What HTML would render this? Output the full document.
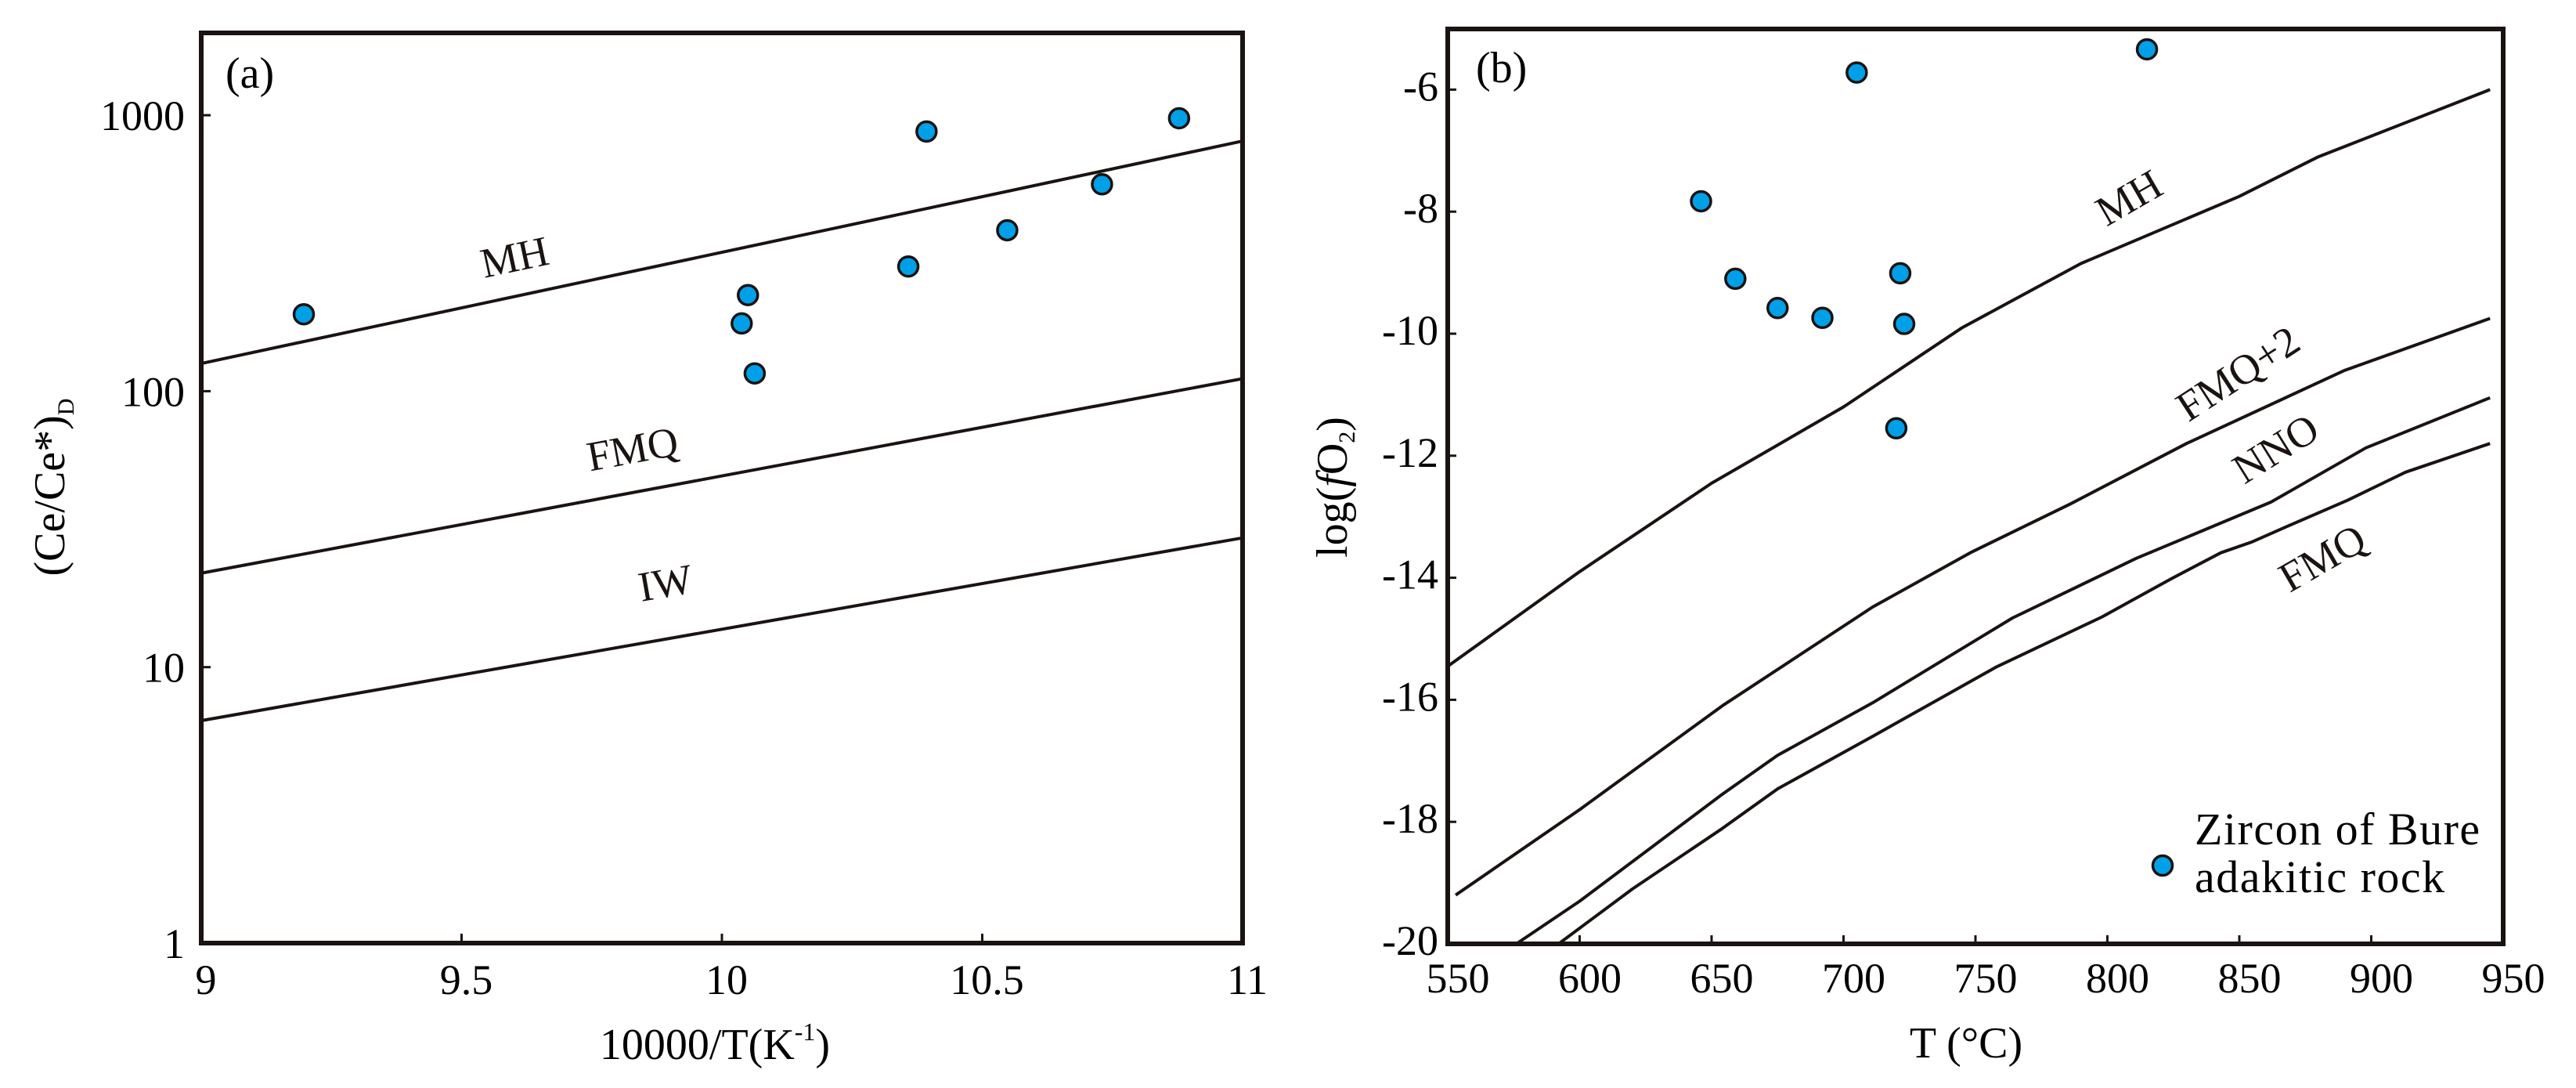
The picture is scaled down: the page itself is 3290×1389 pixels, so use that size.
<!DOCTYPE html>
<html><head><meta charset="utf-8"><style>
html,body{margin:0;padding:0;background:#fff;}
svg{display:block;font-family:"Liberation Serif",serif;}
</style></head><body>
<svg id="chart" width="3290" height="1389" viewBox="0 0 3290 1389" xmlns="http://www.w3.org/2000/svg">
<rect width="3290" height="1389" fill="#fff"/>
</svg>
<script>
// Panel a data
const aXTicks = [9, 9.5, 10, 10.5, 11];
const aYTicks = [1, 10, 100, 1000];
const aYTickLabels = ["1", "10", "100", "1000"];
const aPointsX = [9.197, 10.05, 10.038, 10.063, 10.358, 10.393, 10.548, 10.73, 10.878];
const aPointsY = [190, 223, 176, 116, 283, 873, 383, 562, 975];
const aLineNames = ["MH", "FMQ", "IW"];
const aLineX = [9, 11];
const aLineMH = [126, 806];
const aLineFMQ = [21.9, 111];
const aLineIW = [6.4, 29.4];
// Panel b data
const bXTicks = [550, 600, 650, 700, 750, 800, 850, 900, 950];
const bYTicks = [-20, -18, -16, -14, -12, -10, -8, -6];
const bPointsX = [646, 705, 815, 659, 675, 692, 721.5, 723, 720];
const bPointsY = [-7.83, -5.72, -5.34, -9.10, -9.58, -9.74, -9.01, -9.84, -11.55];
const bMHX = [550, 600, 650, 700, 745, 790, 850, 880, 945];
const bMHY = [-15.45, -13.9, -12.45, -11.2, -9.9, -8.85, -7.75, -7.1, -6.0];
const bFMQ2X = [553, 600, 654, 711, 748, 786, 830, 890, 945];
const bFMQ2Y = [-19.2, -17.8, -16.1, -14.48, -13.59, -12.79, -11.8, -10.6, -9.75];
const bNNOX = [576, 600, 654, 675, 711, 764, 811, 862, 898, 945];
const bNNOY = [-20, -19.3, -17.55, -16.91, -16.05, -14.66, -13.68, -12.76, -11.87, -11.05];
const bFMQX = [592, 620, 654, 675, 711, 758, 798, 824, 843, 855, 868, 891, 913, 945];
const bFMQY = [-20, -19.1, -18.11, -17.46, -16.6, -15.46, -14.64, -14.02, -13.59, -13.41, -13.16, -12.73, -12.27, -11.8];

const NS = "http://www.w3.org/2000/svg";
const svg = document.getElementById("chart");
function mk(tag, attrs, parent, text) {
  const e = document.createElementNS(NS, tag);
  for (const k in attrs) e.setAttribute(k, attrs[k]);
  if (text !== undefined) e.textContent = text;
  (parent || svg).appendChild(e);
  return e;
}
const A = {l:257, r:1587, t:42, b:1204};
const ax = v => A.l + (v - 9) / 2 * (A.r - A.l);
const ay = v => A.b - Math.log10(v) * 352.3;
const B = {l:1849, r:3197, t:37, b:1205};
const bx = v => B.l + (v - 550) / 400 * (B.r - B.l);
const by = v => B.b - (v + 20) * 77.9;

// ---------- Panel a ----------
const ga = mk("g", {});


aLineNames.forEach((n, i) => {
  const vals = [aLineMH, aLineFMQ, aLineIW][i];
  const p = mk("line", {x1: ax(aLineX[0]), y1: ay(vals[0]), x2: ax(aLineX[1]), y2: ay(vals[1]), stroke: "#1a1311", "stroke-width": 4}, ga);
  
  
});
const aLabels = [["MH", 661, 346, -12], ["FMQ", 811, 591, -10.5], ["IW", 853, 762, -10]];
aLabels.forEach(l => {
  const t = mk("text", {x: l[1], y: l[2], "font-size": 54, "text-anchor": "middle", transform: `rotate(${l[3]} ${l[1]} ${l[2]})`, fill: "#1a1311"}, ga, l[0]);
  
  
});
aXTicks.forEach(v => {
  const tk = mk("line", {x1: ax(v), y1: A.b, x2: ax(v), y2: A.b - 12, stroke: "#1a1311", "stroke-width": 3}, ga);
  
  
  const t = mk("text", {x: ax(v) + 6, y: 1269, "font-size": 54, "text-anchor": "middle"}, ga, String(v));
  
  
});
aYTicks.forEach((v, i) => {
  const tk = mk("line", {x1: A.l, y1: ay(v), x2: A.l + 12, y2: ay(v), stroke: "#1a1311", "stroke-width": 3}, ga);
  
  
  const t = mk("text", {x: 236, y: ay(v) + 19, "font-size": 54, "text-anchor": "end"}, ga, aYTickLabels[i]);
  
  
});
const fa = mk("rect", {x: A.l, y: A.t, width: A.r - A.l, height: A.b - A.t, fill: "none", stroke: "#1a1311", "stroke-width": 6}, ga);


aPointsX.forEach((x, i) => {
  const c = mk("circle", {cx: ax(x), cy: ay(aPointsY[i]), r: 12.5, fill: "#00a0e9", stroke: "#1a1311", "stroke-width": 3.5}, ga);
  
  
});
const pa = mk("text", {x: 288, y: 112, "font-size": 56}, ga, "(a)");


const xta = mk("text", {x: 913, y: 1352, "font-size": 56, "text-anchor": "middle"}, ga);


xta.innerHTML = '10000/T(K<tspan font-size="32" dy="-24">-1</tspan><tspan dy="24">)</tspan>';
const yta = mk("text", {x: 0, y: 0, "font-size": 56, "text-anchor": "middle", transform: "translate(82 622) rotate(-90)"}, ga);


yta.innerHTML = '(Ce/Ce*)<tspan font-size="30" dy="12">D</tspan>';

// ---------- Panel b ----------
const gb = mk("g", {});


const bSeries = [["mh", bMHX, bMHY], ["fmq-plus-2", bFMQ2X, bFMQ2Y], ["nno", bNNOX, bNNOY], ["fmq", bFMQX, bFMQY]];
bSeries.forEach(s => {
  const d = s[1].map((x, i) => (i ? "L" : "M") + bx(x).toFixed(1) + " " + by(s[2][i]).toFixed(1)).join(" ");
  const p = mk("path", {d: d, fill: "none", stroke: "#1a1311", "stroke-width": 4, "stroke-linejoin": "round"}, gb);
  
  
});
const bLabels = [["MH", 2728, 268, -30], ["FMQ+2", 2868, 492, -33], ["NNO", 2916, 588, -32], ["FMQ", 2975, 728, -30]];
bLabels.forEach(l => {
  const t = mk("text", {x: l[1], y: l[2], "font-size": 54, "text-anchor": "middle", transform: `rotate(${l[3]} ${l[1]} ${l[2]})`, fill: "#1a1311"}, gb, l[0]);
  
  
});
bXTicks.forEach(v => {
  const tk = mk("line", {x1: bx(v), y1: B.b, x2: bx(v), y2: B.b - 11, stroke: "#1a1311", "stroke-width": 3}, gb);
  
  
  const t = mk("text", {x: bx(v) + 13, y: 1267, "font-size": 54, "text-anchor": "middle"}, gb, String(v));
  
  
});
bYTicks.forEach(v => {
  const tk = mk("line", {x1: B.l, y1: by(v), x2: B.l + 11, y2: by(v), stroke: "#1a1311", "stroke-width": 3}, gb);
  
  
  const t = mk("text", {x: 1837, y: by(v) + 14, "font-size": 54, "text-anchor": "end"}, gb, String(v));
  
  
});
const fb = mk("rect", {x: B.l, y: B.t, width: B.r - B.l, height: B.b - B.t, fill: "none", stroke: "#1a1311", "stroke-width": 6}, gb);


bPointsX.forEach((x, i) => {
  const c = mk("circle", {cx: bx(x), cy: by(bPointsY[i]), r: 12.5, fill: "#00a0e9", stroke: "#1a1311", "stroke-width": 3.5}, gb);
  
  
});
const lm = mk("circle", {cx: 2762, cy: 1105, r: 12.5, fill: "#00a0e9", stroke: "#1a1311", "stroke-width": 3.5}, gb);


const lt1 = mk("text", {x: 2803, y: 1078, "font-size": 58, "letter-spacing": 1.5}, gb, "Zircon of Bure");


const lt2 = mk("text", {x: 2803, y: 1139, "font-size": 58, "letter-spacing": 1.5}, gb, "adakitic rock");


const pb = mk("text", {x: 1885, y: 105, "font-size": 56}, gb, "(b)");


const xtb = mk("text", {x: 2511, y: 1350, "font-size": 56, "text-anchor": "middle"}, gb, "T (°C)");


const ytb = mk("text", {x: 0, y: 0, "font-size": 56, "text-anchor": "middle", transform: "translate(1720 622) rotate(-90)"}, gb);


ytb.innerHTML = 'log(<tspan font-style="italic">f</tspan>O<tspan font-size="30" dy="10">2</tspan><tspan dy="-10">)</tspan>';
</script>
</body></html>
